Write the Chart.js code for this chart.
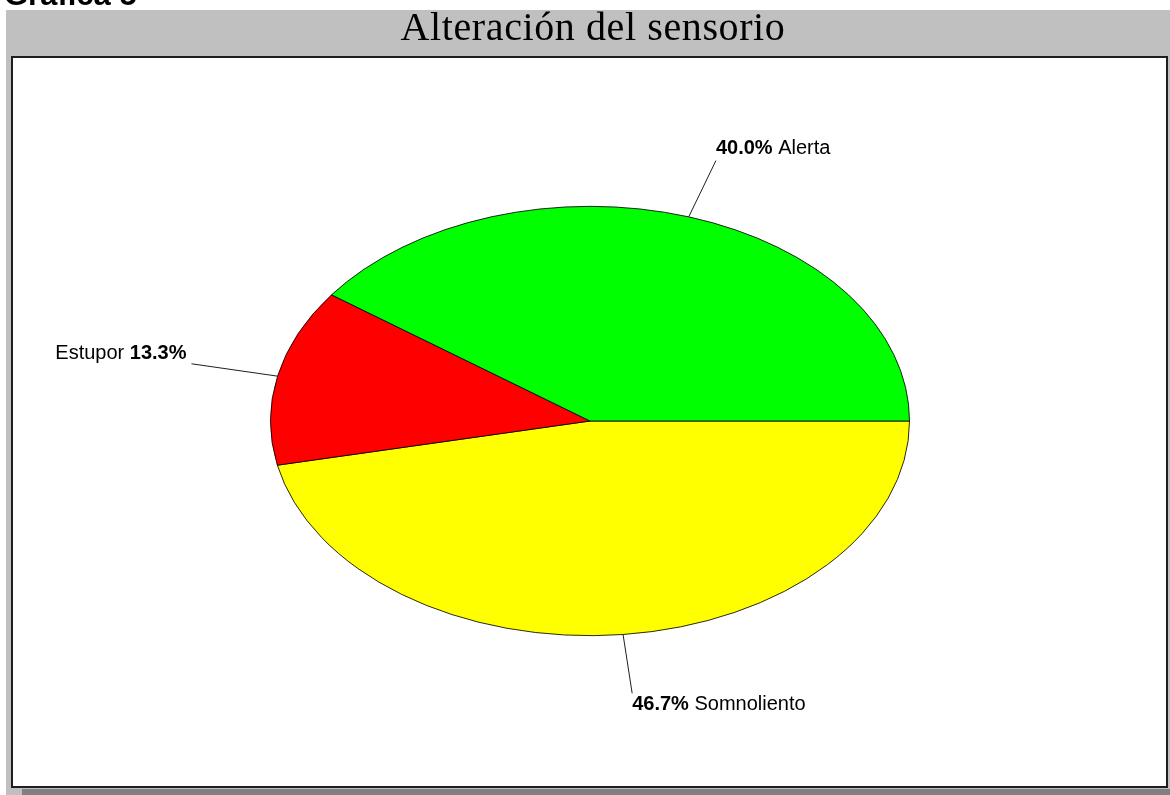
<!DOCTYPE html>
<html>
<head>
<meta charset="utf-8">
<script src="https://cdn.jsdelivr.net/npm/chart.js@4"></script>
<style>
  html, body { margin: 0; padding: 0; background: #fff; }
  canvas { display: block; }
</style>
</head>
<body>
<canvas id="sensorio_chart" width="1170" height="795"></canvas>
<script>
// datos de la grafica
const categorias = ["Somnoliento", "Estupor", "Alerta"];
const porcentajes = [46.7, 13.3, 40.0];
const colores = ["#ffff00", "#ff0000", "#00ff00"];
const titulo = "Alteración del sensorio";
const encabezado = "Gráfica 5";

(function () {
  const grapharea = document.getElementById("sensorio_chart");

  // el pastel se dibuja achatado (elipse)
  const escalaY = 215 / 320;
  const largoGuia = 88;

  const marco = {
    id: "marco",
    beforeDraw(chart) {
      const ctx = chart.ctx;
      ctx.save();
      ctx.fillStyle = "#ffffff";
      ctx.fillRect(0, 0, chart.width, chart.height);
      ctx.fillStyle = "#c0c0c0";
      ctx.fillRect(6, 10, chart.width - 6, chart.height - 10);
      ctx.fillStyle = "#808080";
      ctx.fillRect(22, 789, chart.width - 22, 6);
      ctx.fillStyle = "#ffffff";
      ctx.fillRect(12, 57, 1155, 730);
      ctx.strokeStyle = "#1e1e1e";
      ctx.lineWidth = 2;
      ctx.strokeRect(12, 57, 1155, 730);

      ctx.fillStyle = "#000";
      ctx.textBaseline = "alphabetic";
      ctx.textAlign = "left";
      ctx.font = "bold 31px 'Liberation Sans', Arial, sans-serif";
      ctx.fillText(encabezado, 4, 5);

      ctx.textAlign = "center";
      ctx.font = "40px 'Liberation Serif', 'Times New Roman', serif";
      ctx.letterSpacing = "0.6px";
      ctx.fillText(titulo, 593, 40);
      ctx.letterSpacing = "0px";
      ctx.restore();
    },
    beforeDatasetsDraw(chart) {
      const ctx = chart.ctx;
      const a = chart.chartArea;
      const cx = (a.left + a.right) / 2;
      const cy = (a.top + a.bottom) / 2;
      ctx.save();
      ctx.translate(cx, cy);
      ctx.scale(1, escalaY);
      ctx.translate(-cx, -cy);
    },
    afterDatasetsDraw(chart) {
      chart.ctx.restore();
    },
    afterDraw(chart) {
      const ctx = chart.ctx;
      const meta = chart.getDatasetMeta(0);
      ctx.save();
      meta.data.forEach((arc, i) => {
        const mid = (arc.startAngle + arc.endAngle) / 2;
        const cos = Math.cos(mid);
        const sin = Math.sin(mid);
        const r0 = arc.outerRadius;
        const r1 = r0 + largoGuia;
        const x0 = arc.x + cos * r0;
        const y0 = arc.y + sin * r0 * escalaY;
        const x1 = arc.x + cos * r1;
        const y1 = arc.y + sin * r1 * escalaY;

        ctx.strokeStyle = "#202020";
        ctx.lineWidth = 1;
        ctx.beginPath();
        ctx.moveTo(x0, y0);
        ctx.lineTo(x1, y1);
        ctx.stroke();

        const pct = porcentajes[i].toFixed(1) + "%";
        const nombre = categorias[i];
        const fNegrita = "bold 20px 'Liberation Sans', Arial, sans-serif";
        const fNormal = "20px 'Liberation Sans', Arial, sans-serif";
        ctx.fillStyle = "#000";
        ctx.textBaseline = "alphabetic";
        ctx.textAlign = "left";

        let base;
        if (Math.abs(cos) > Math.abs(sin)) base = y1 - 5;
        else if (sin < 0) base = y1 - 7;
        else base = y1 + 17;

        if (cos < 0) {
          // etiqueta a la izquierda: nombre primero
          ctx.font = fNegrita;
          const wPct = ctx.measureText(pct).width;
          ctx.font = fNormal;
          const wNom = ctx.measureText(nombre + " ").width;
          const x = x1 - 5 - wPct - wNom;
          ctx.fillText(nombre + " ", x, base);
          ctx.font = fNegrita;
          ctx.fillText(pct, x + wNom, base);
        } else {
          const x = x1;
          ctx.font = fNegrita;
          const wPct = ctx.measureText(pct).width;
          ctx.fillText(pct, x, base);
          ctx.font = fNormal;
          ctx.fillText(" " + nombre, x + wPct, base);
        }
      });
      ctx.restore();
    },
  };

  const data = {
    labels: categorias,
    datasets: [
      {
        data: porcentajes,
        backgroundColor: colores,
        borderColor: "#000000",
        borderWidth: 1,
      },
    ],
  };

  const config = {
    type: "pie",
    data: data,
    options: {
      responsive: false,
      devicePixelRatio: 1,
      animation: false,
      rotation: 90,
      layout: {
        padding: { left: 270, right: 260, top: 101, bottom: 54 },
      },
      plugins: {
        legend: { display: false },
        tooltip: { enabled: false },
      },
    },
    plugins: [marco],
  };

  new Chart(grapharea, config);
})();
</script>
</body>
</html>
